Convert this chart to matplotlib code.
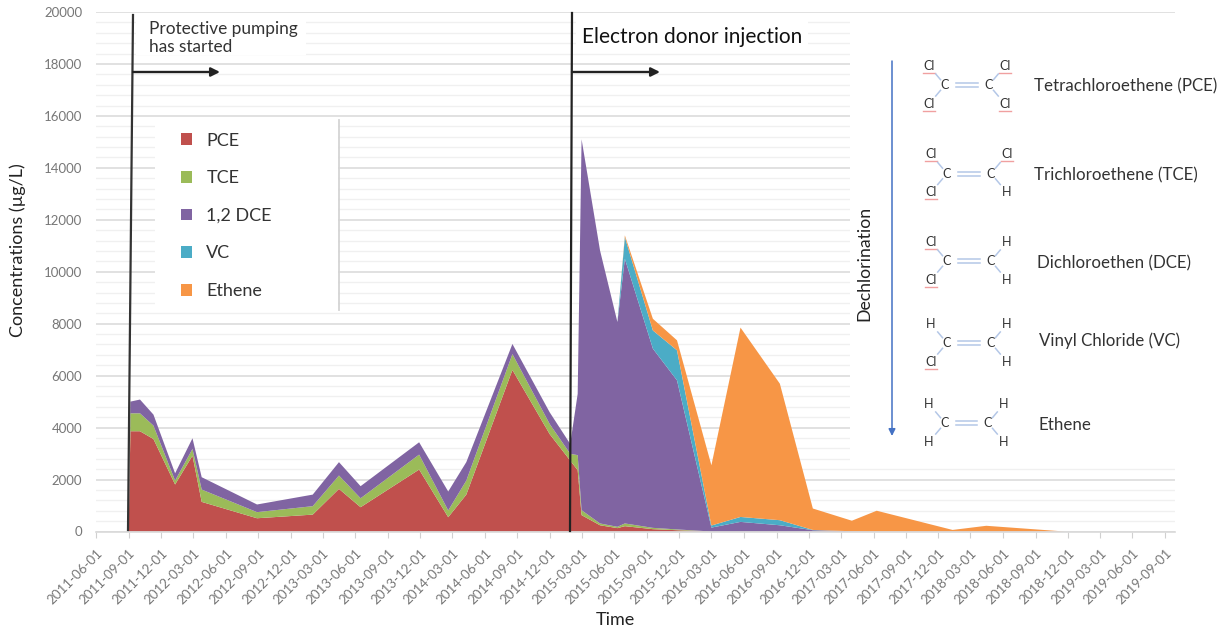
import pandas as pd
import matplotlib
matplotlib.use('Agg')
import matplotlib.pyplot as plt
from matplotlib.patches import Patch, Rectangle
from matplotlib.ticker import MultipleLocator

plt.rcParams['font.family'] = ['Lato', 'DejaVu Sans']

# Valeurs
dates = ['2011-09-01', '2011-09-06', '2011-10-03', '2011-11-10', '2012-01-10', '2012-02-28',
         '2012-03-25', '2012-08-28', '2013-02-01', '2013-04-16', '2013-06-16', '2013-11-28',
         '2014-02-18', '2014-04-10', '2014-08-18', '2014-12-01', '2015-01-28', '2015-02-18',
         '2015-03-01', '2015-04-22', '2015-06-10', '2015-07-01', '2015-09-18', '2015-11-25',
         '2016-03-01', '2016-05-22', '2016-09-10', '2016-12-12', '2017-04-01', '2017-06-10',
         '2018-01-10', '2018-04-15', '2018-11-22', '2019-09-01']
pce = [0, 3860, 3860, 3560, 1810, 2920, 1140, 510, 650, 1640, 935, 2385, 550, 1420, 6220, 3750, 2730,
       2360, 630, 240, 130, 205, 90, 50, 0, 0, 0, 0, 0, 0, 0, 0, 0, 0]
tce = [0, 690, 690, 515, 150, 260, 475, 235, 325, 515, 345, 575, 260, 540, 610, 390, 260,
       580, 190, 70, 50, 105, 50, 30, 0, 0, 0, 0, 0, 0, 0, 0, 0, 0]
dce = [0, 450, 530, 425, 280, 410, 475, 295, 445, 515, 465, 475, 730, 710, 390, 450, 380,
       2360, 14280, 10510, 7885, 10190, 6900, 5740, 150, 370, 240, 50, 10, 0, 0, 0, 0, 0]
vc = [0, 0, 0, 0, 0, 0, 0, 0, 0, 0, 0, 0, 0, 0, 0, 0, 0,
      0, 0, 0, 0, 830, 700, 1155, 80, 190, 195, 10, 0, 0, 0, 0, 0, 0]
ethene = [0, 0, 0, 0, 0, 0, 0, 0, 0, 0, 0, 0, 0, 0, 0, 0, 0,
          0, 0, 0, 0, 70, 450, 385, 2320, 7290, 5255, 825, 405, 800, 60, 220, 0, 0]

names = ['PCE', 'TCE', '1,2 DCE', 'VC', 'Ethene']
colors = ['#c0504d', '#9bbb59', '#8064a2', '#4bacc6', '#f79646']
tick_dates = pd.date_range('2011-06-01', '2019-09-01', freq='3MS')

# name, y, x of label; then the four atoms around the double bond
molecules = [
    ('Tetrachloroethene (PCE)', 86, 1034, ['Cl', 'Cl', 'Cl', 'Cl'], 945, 989),
    ('Trichloroethene (TCE)', 175, 1034, ['Cl', 'Cl', 'Cl', 'H'], 947, 991),
    ('Dichloroethen (DCE)', 263, 1037, ['Cl', 'H', 'Cl', 'H'], 947, 991),
    ('Vinyl Chloride (VC)', 341, 1039, ['H', 'H', 'Cl', 'H'], 947, 991),
    ('Ethene', 425, 1038, ['H', 'H', 'H', 'H'], 945, 988),
]
mol_y = [85, 173.5, 261, 343, 423]

fig = plt.figure(figsize=(12.23, 6.30), dpi=100)
ax = fig.add_axes([96 / 1223, 98.5 / 630, 1079 / 1223, 519.5 / 630])
ax.stackplot(pd.to_datetime(dates), pce, tce, dce, vc, ethene, colors=colors, linewidth=0)

ax.set_xlim(pd.Timestamp('2011-06-01'), pd.Timestamp('2019-09-29'))
ax.set_ylim(0, 20000)
ax.yaxis.set_major_locator(MultipleLocator(2000))
ax.yaxis.set_minor_locator(MultipleLocator(400))
ax.grid(True, which='major', axis='y', color='#d9d9d9', lw=1.1)
ax.grid(True, which='minor', axis='y', color='#f0f0f0', lw=1.0)
ax.set_axisbelow(True)
ax.set_xticks(tick_dates)
ax.set_xticklabels([d.strftime('%Y-%m-%d') for d in tick_dates], rotation=45, ha='right',
                   rotation_mode='anchor', fontsize=9.6, color='#777777')
ax.tick_params(axis='x', length=4, color='#d0d0d0', pad=7)
ax.tick_params(axis='y', which='both', length=0, pad=10, labelsize=9.5, labelcolor='#777777')
for s in ['top', 'left', 'right']:
    ax.spines[s].set_visible(False)
ax.spines['bottom'].set_color('#d9d9d9')
ax.spines['bottom'].set_linewidth(1.2)

# Couche superposee en pixels pour les annotations
ov = fig.add_axes([0, 0, 1, 1])
ov.set_xlim(0, 1223)
ov.set_ylim(630, 0)
ov.axis('off')

# white boxes that hide the gridlines
for x, y, w, h in [(136, 17, 170, 38), (576, 20, 232, 33), (850, 16, 373, 446), (155, 119, 183, 193)]:
    ov.add_patch(Rectangle((x, y), w, h, fc='white', ec='none'))
ov.plot([339, 339], [120, 310], color='#d4d4d4', lw=1.3)

ov.plot([133, 128], [15, 530], color='#333333', lw=1.6)
ov.plot([572, 570], [13, 531], color='#222222', lw=1.6)
for x0, x1 in [(133, 220), (572, 660)]:
    ov.annotate('', xy=(x1, 72), xytext=(x0, 72),
                arrowprops=dict(arrowstyle='-|>', color='#222222', lw=1.7, shrinkA=0, shrinkB=0, mutation_scale=13))
ov.annotate('', xy=(892, 436), xytext=(892, 61),
            arrowprops=dict(arrowstyle='-|>', color='#4472c4', lw=1.1, shrinkA=0, shrinkB=0, mutation_scale=10))

ov.text(149, 38, 'Protective pumping\nhas started', fontsize=12.4, color='#333333', va='center', linespacing=1.2)
ov.text(582, 37, 'Electron donor injection', fontsize=15, color='#111111', va='center')
ov.text(864, 263, 'Dechlorination', fontsize=12.7, color='#222222', rotation=90, ha='center', va='center')
ov.text(18, 250, 'Concentrations (µg/L)', fontsize=13, color='#222222', rotation=90, ha='center', va='center')
ov.text(615, 620, 'Time', fontsize=13, color='#222222', ha='center', va='center')

ov.legend(handles=[Patch(fc=c, ec='none', label=n) for c, n in zip(colors, names)],
          loc='upper left', bbox_to_anchor=(181, 132.5), bbox_transform=ov.transData, frameon=False,
          fontsize=13, labelcolor='#333333', handlelength=0.6, handleheight=0.6, handletextpad=0.8,
          labelspacing=1.2, borderpad=0, borderaxespad=0)

# Structures chimiques
bond = '#b4c7e7'
for (label, ly, lx, atoms, cl, cr), my in zip(molecules, mol_y):
    ov.text(lx, ly, label, fontsize=12.2, color='#333333', va='center')
    for x in [cl, cr]:
        ov.text(x, my, 'C', fontsize=9, color='#333333', ha='center', va='center')
    for dy in [-2, 2]:
        ov.plot([cl + 11, cr - 11], [my + dy, my + dy], color=bond, lw=1.1)
    spots = [(cl - 16, my - 19), (cr + 16, my - 19), (cl - 16, my + 19), (cr + 16, my + 19)]
    for atom, (ax_x, ax_y) in zip(atoms, spots):
        ov.text(ax_x, ax_y, atom, fontsize=9, color='#333333', ha='center', va='center')
        if atom == 'Cl':
            ov.plot([ax_x - 6, ax_x + 6], [ax_y + 6.5, ax_y + 6.5], color='#f0a0a0', lw=1)
        cx = cl if ax_x < cl else cr
        ov.plot([ax_x + 0.42 * (cx - ax_x), ax_x + 0.72 * (cx - ax_x)],
                [ax_y + 0.42 * (my - ax_y), ax_y + 0.72 * (my - ax_y)], color=bond, lw=1.1)

fig.savefig('out.png', dpi=100)
